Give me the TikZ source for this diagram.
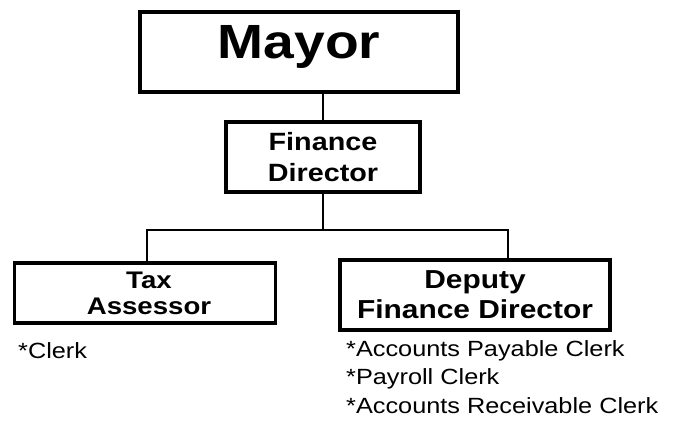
\documentclass[tikz,border=0pt]{standalone}
\usepackage{fontspec}
\setmainfont{Liberation Sans}[FakeStretch=1.15]
\usetikzlibrary{positioning}
\tikzstyle{office} = [draw, rectangle, line width=3.5pt, text centered, align=center, font=\bfseries\fontsize{25}{31}\selectfont, inner sep=0pt]
\tikzstyle{line} = [draw, line width=1.3pt]
\tikzstyle{staff} = [align=left, font=\fontsize{22}{28.5}\selectfont, inner sep=0pt]

\begin{document}
\begin{tikzpicture}[x=1pt, y=-1pt]
    \useasboundingbox (0,0) rectangle (680,427);

    % Place nodes
    \node [office, line width=4pt, minimum width=318pt, minimum height=80pt, text height=47pt, text depth=33pt, font=\bfseries\fontsize{48}{48}\selectfont] (mayor) at (299,52) {Mayor};
    \node [office, minimum width=194pt, minimum height=70pt] (fin-director) at (323,157) {Finance\\Director};
    \node [office, minimum width=261pt, minimum height=60pt, font=\bfseries\fontsize{24}{26}\selectfont] (tax-assessor) at (145,293) {\hspace{8pt}Tax\\\hspace{8pt}Assessor};
    \node [office, minimum width=270pt, minimum height=70pt, font=\bfseries\fontsize{26}{30}\selectfont] (deputy) at (475,295) {Deputy\\Finance Director};
    \node [staff, anchor=north west] (tax-staff) at (18,342) {*Clerk};
    \node [staff, anchor=north west] (deputy-staff) at (346,340) {*Accounts Payable Clerk\\*Payroll Clerk\\*Accounts Receivable Clerk};

    % Helper coordinates for the branch
    \coordinate (split) at (323,230);
    \coordinate (split-left) at (147,230);
    \coordinate (split-right) at (508,230);

    % Draw edges
    \path [line] (mayor.south -| fin-director.north) -- (fin-director.north);
    \path [line] (fin-director.south) -- (split);
    \path [line] (split-left |- tax-assessor.north) -- (split-left) -- (split-right) -- (split-right |- deputy.north);
\end{tikzpicture}
\end{document}
